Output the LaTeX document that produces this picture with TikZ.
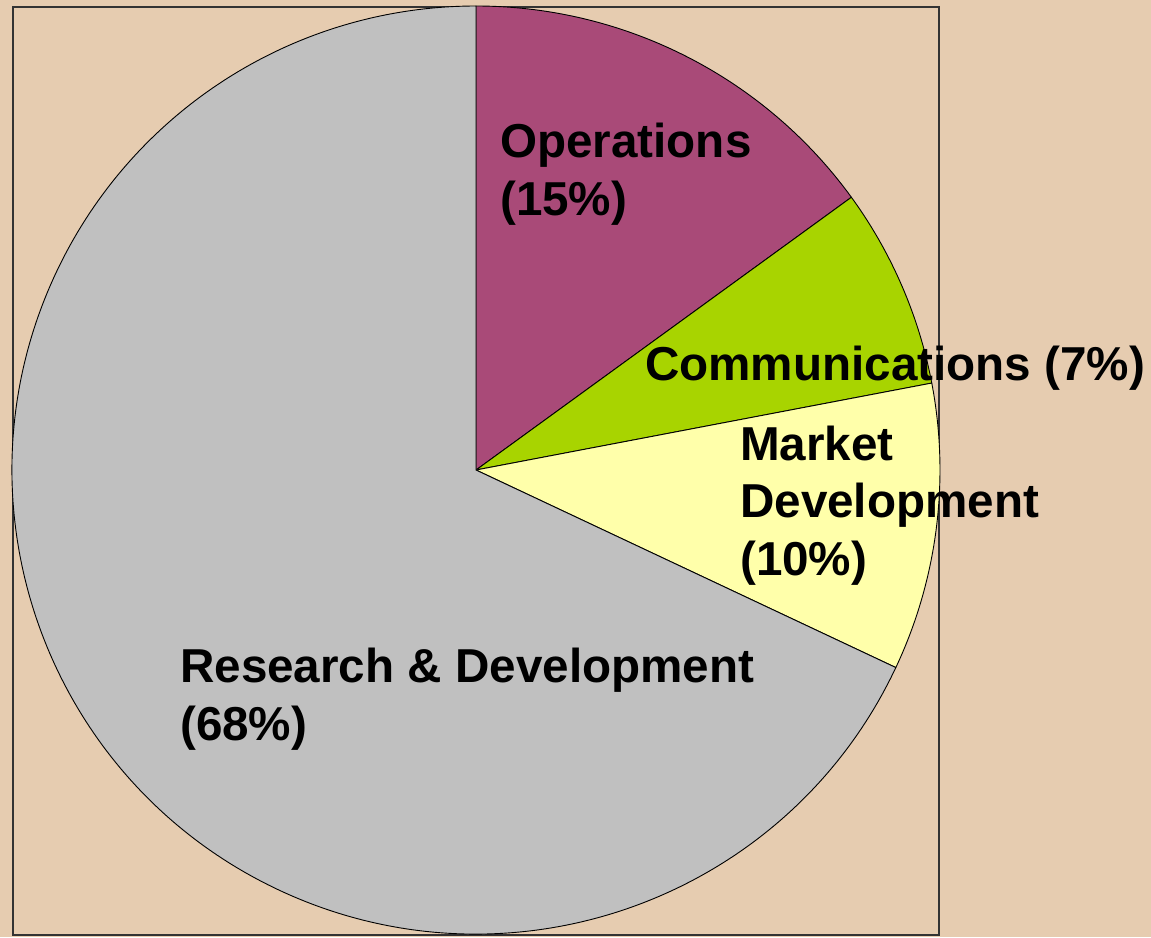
\documentclass[tikz,border=0pt]{standalone}
\usepackage{fontspec}
\setmainfont{Liberation Sans}
\definecolor{bg}{HTML}{E6CCB0}
\definecolor{ops}{HTML}{A94A78}
\definecolor{comm}{HTML}{A8D400}
\definecolor{mkt}{HTML}{FFFFAA}
\definecolor{rnd}{HTML}{C0C0C0}
\begin{document}
\begin{tikzpicture}[x=1pt,y=1pt,
  slice/.style={draw=black,line width=0.9pt,line join=round},
  lbl/.style={inner sep=0pt,anchor=base west,font=\fontsize{47.6}{57.5}\selectfont\bfseries,align=left}]
\fill[bg] (0,0) rectangle (1151,-937);
\useasboundingbox (0,0) rectangle (1151,-937);
\draw[line width=1.3pt,draw=black!80] (13,-7) rectangle (939,-935);
\coordinate (c) at (476,-470);
\filldraw[slice,fill=ops] (c) -- ++(90:464) arc[start angle=90,end angle=36,radius=464] -- cycle;
\filldraw[slice,fill=comm] (c) -- ++(36:464) arc[start angle=36,end angle=10.8,radius=464] -- cycle;
\filldraw[slice,fill=mkt] (c) -- ++(10.8:464) arc[start angle=10.8,end angle=-25.2,radius=464] -- cycle;
\filldraw[slice,fill=rnd] (c) -- ++(-25.2:464) arc[start angle=-25.2,end angle=-270,radius=464] -- cycle;
\node[lbl] (op) at (500,-215) {Operations\\(15\%)};
\node[lbl] (cm) at (645,-380) {Communications (7\%)};
\node[lbl] (mk) at (740,-575) {Market\\Development\\(10\%)};
\node[lbl] (rd) at (180,-740) {Research \& Development\\(68\%)};
\end{tikzpicture}
\end{document}
